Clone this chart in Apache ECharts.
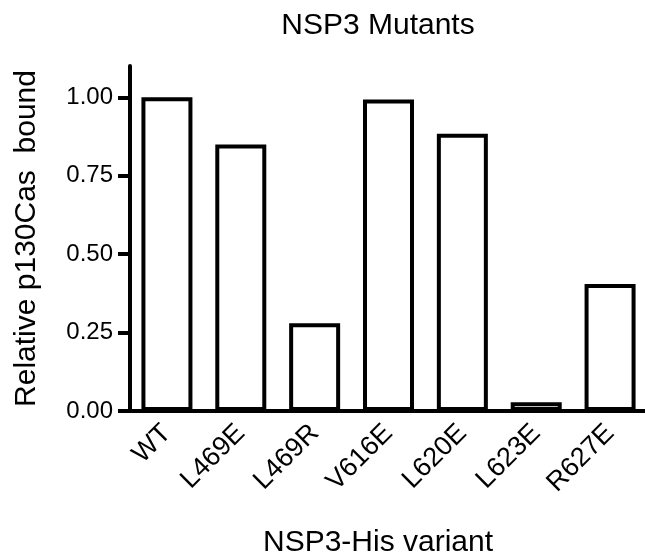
<!DOCTYPE html>
<html lang="en">

<head>
    <meta charset="UTF-8">
    <title>NSP3 Mutants</title>
</head>

<body style="margin: 0; background: #fff">

    <div id="chart" style="width: 645px; height: 560px"></div>

    <script src="https://cdn.jsdelivr.net/npm/echarts@6/dist/echarts.min.js"></script>
    <script>
        const variants = ['WT', 'L469E', 'L469R', 'V616E', 'L620E', 'L623E', 'R627E']
        const bound = [1.0, 0.85, 0.28, 0.993, 0.884, 0.028, 0.405]
        const yTicks = [0, 0.25, 0.5, 0.75, 1.0]

        const font = 'Liberation Sans, Arial, sans-serif'
        const myChart = echarts.init(document.getElementById('chart'))

        const option = {
            animation: false,
            title: {
                text: 'NSP3 Mutants',
                left: 373,
                textAlign: 'center',
                top: 6,
                textStyle: { fontFamily: font, fontSize: 30, fontWeight: 'normal', color: '#000' }
            },
            // keep the plot box fixed, do not shrink it for labels
            grid: { left: 130, right: -2, top: 66, bottom: 149, outerBoundsMode: 'none', containLabel: false },
            xAxis: {
                type: 'category',
                data: variants,
                name: 'NSP3-His variant',
                nameLocation: 'middle',
                nameGap: 117,
                nameTextStyle: { fontFamily: font, fontSize: 30, color: '#000', padding: [0, 21, 0, 0] },
                axisLine: { lineStyle: { color: '#000', width: 4 } },
                axisTick: { alignWithLabel: true, length: 12, lineStyle: { color: '#000', width: 4 } },
                axisLabel: { rotate: 45, margin: 18, fontFamily: font, fontSize: 27, color: '#000' }
            },
            yAxis: {
                type: 'value',
                min: 0,
                max: 1.1,
                interval: 0.25,
                name: 'Relative p130Cas  bound',
                nameLocation: 'middle',
                nameGap: 88,
                nameTextStyle: { fontFamily: font, fontSize: 30, color: '#000' },
                splitLine: { show: false },
                axisLine: { show: true, lineStyle: { color: '#000', width: 4 } },
                axisTick: { show: true, length: 12, customValues: yTicks, lineStyle: { color: '#000', width: 4 } },
                axisLabel: {
                    margin: 17,
                    customValues: yTicks,
                    fontFamily: font,
                    fontSize: 24,
                    color: '#000',
                    formatter: v => v.toFixed(2)
                }
            },
            series: [{
                type: 'bar',
                data: bound,
                barWidth: 51,
                itemStyle: { color: '#fff', borderColor: '#000', borderWidth: 4 }
            }]
        }

        myChart.setOption(option)
    </script>
</body>

</html>
